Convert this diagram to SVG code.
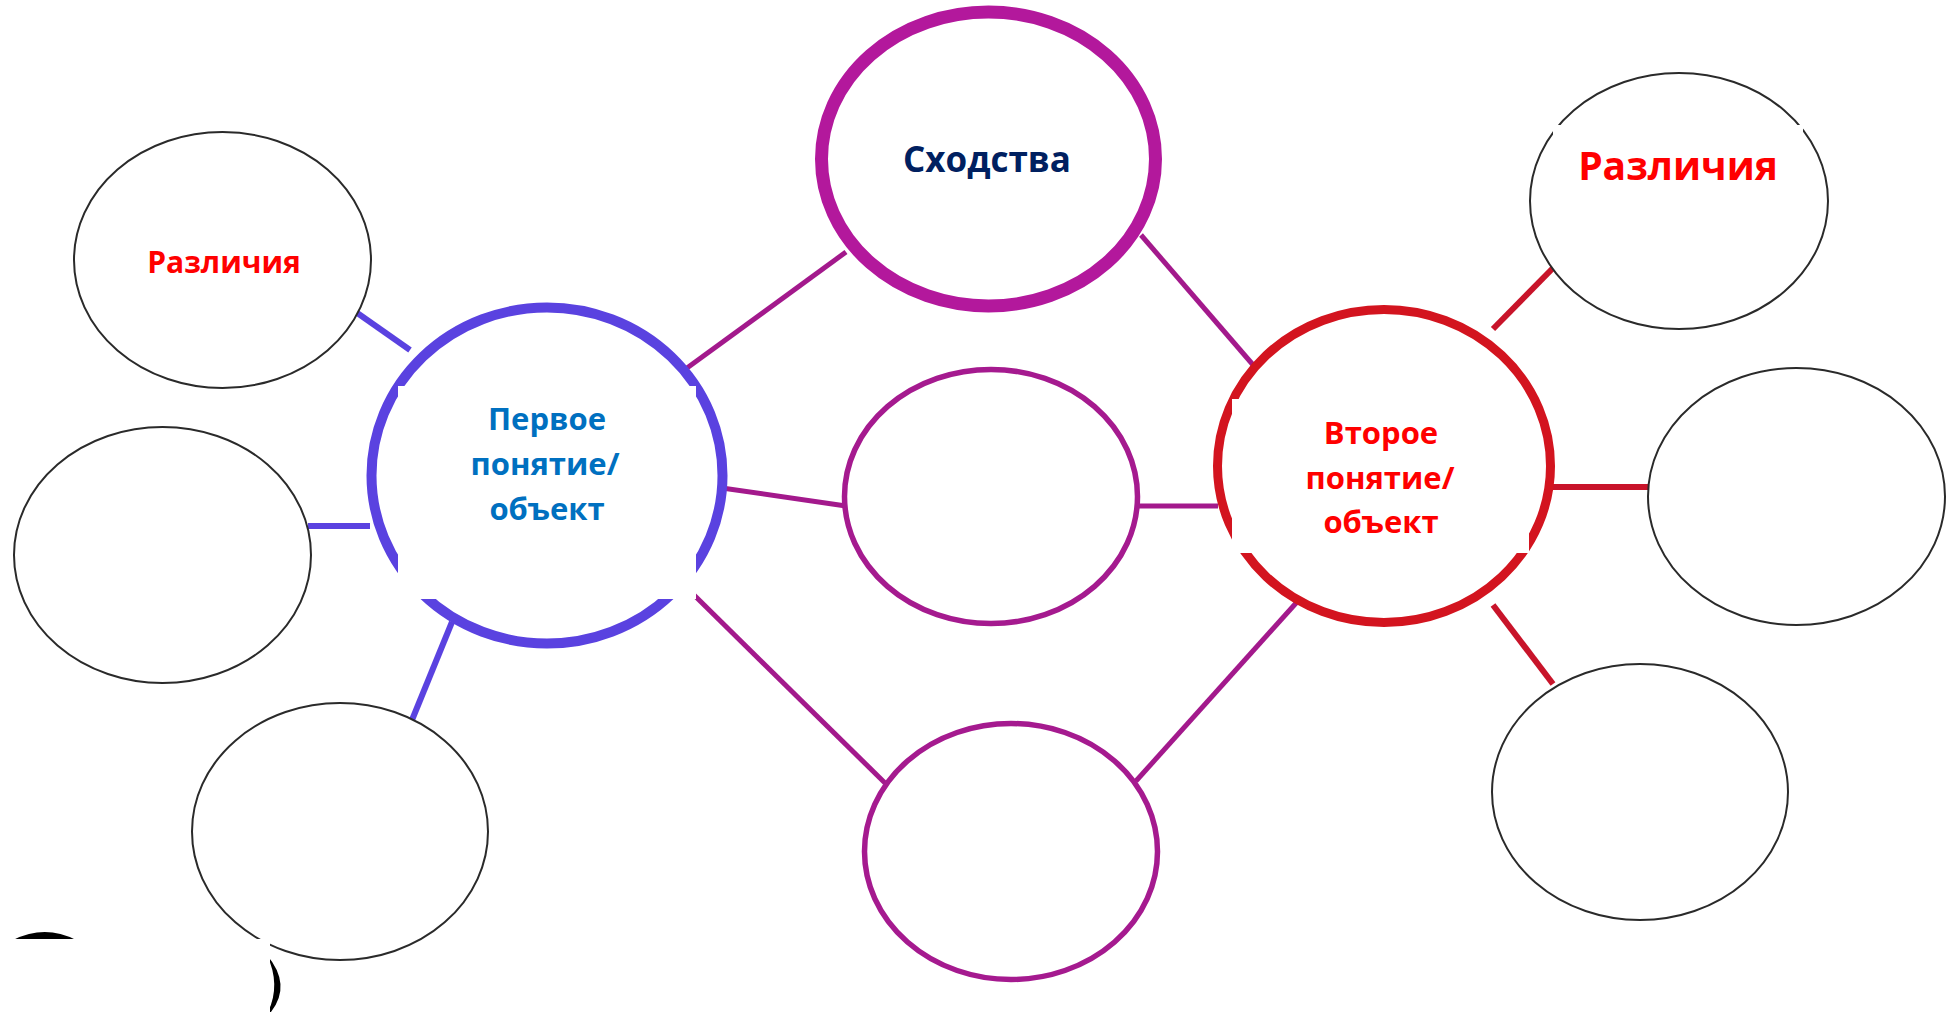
<svg xmlns="http://www.w3.org/2000/svg" width="1947" height="1012" viewBox="0 0 1947 1012">
<style>
.t{font-family:"Open Sans","Noto Sans","DejaVu Sans",sans-serif;font-weight:700;text-anchor:middle}
.thin{fill:#fff;stroke:#2a2a2a;stroke-width:2}
.blue{stroke:#5a42e0;stroke-width:6;fill:none}
.mag{stroke:#a3198c;stroke-width:5;fill:none}
.red{stroke:#c8142a;stroke-width:6;fill:none}
.mask{fill:#fff}
</style>
<rect width="1947" height="1012" fill="#fff"/>
<g id="connectors">
<line class="blue" x1="353" y1="310" x2="410" y2="350"/>
<line class="blue" x1="308" y1="526" x2="370" y2="526"/>
<line class="blue" x1="412" y1="720" x2="452" y2="622"/>
<line class="mag" x1="687" y1="368" x2="846" y2="252"/>
<line class="mag" x1="722" y1="488" x2="846" y2="506"/>
<line class="mag" x1="694" y1="595" x2="885" y2="783"/>
<line class="mag" x1="1141" y1="235" x2="1254" y2="366"/>
<line class="mag" x1="1136" y1="506" x2="1218" y2="506"/>
<line class="mag" x1="1136" y1="781" x2="1297" y2="602"/>
<line class="red" x1="1493" y1="329" x2="1554" y2="267"/>
<line class="red" x1="1550" y1="487" x2="1651" y2="487"/>
<line class="red" x1="1493" y1="605" x2="1553" y2="684"/>
</g>
<g id="diff-left-top">
<ellipse class="thin" cx="222.5" cy="260" rx="148.5" ry="128"/>
<text class="t" x="224" y="273" font-size="30" fill="#ff0000">Различия</text>
</g>
<g id="diff-left-mid">
<ellipse class="thin" cx="162.5" cy="555" rx="148.5" ry="128"/>
</g>
<g id="diff-left-bottom">
<ellipse class="thin" cx="340" cy="831.5" rx="148" ry="128.5"/>
</g>
<g id="first-concept">
<ellipse cx="547" cy="475.5" rx="175.5" ry="168" fill="#fff" stroke="#5a42e0" stroke-width="10"/>
<rect class="mask" x="398" y="386" width="298" height="213"/>
<text class="t" font-size="31" fill="#0070c0"><tspan x="547" y="430">Первое</tspan><tspan x="545" y="475">понятие/</tspan><tspan x="547" y="520">объект</tspan></text>
</g>
<g id="similarities">
<ellipse cx="988.5" cy="159" rx="167" ry="147" fill="#fff" stroke="#b3189c" stroke-width="13"/>
<text class="t" x="987" y="172" font-size="35" fill="#002060">Сходства</text>
</g>
<g id="sim-mid">
<ellipse cx="991" cy="496.5" rx="146.5" ry="127" fill="#fff" stroke="#a51a8f" stroke-width="5.5"/>
</g>
<g id="sim-bottom">
<ellipse cx="1011" cy="851.5" rx="146.5" ry="128" fill="#fff" stroke="#a51a8f" stroke-width="5.5"/>
</g>
<g id="second-concept">
<ellipse cx="1384" cy="466" rx="166.5" ry="156.5" fill="#fff" stroke="#d3141f" stroke-width="9"/>
<rect class="mask" x="1232" y="399" width="297" height="154"/>
<text class="t" font-size="31" fill="#ff0000"><tspan x="1381" y="444">Второе</tspan><tspan x="1380" y="489">понятие/</tspan><tspan x="1381" y="533">объект</tspan></text>
</g>
<g id="diff-right-top">
<ellipse class="thin" cx="1679" cy="201" rx="149" ry="128"/>
<rect class="mask" x="1553" y="125" width="250" height="136"/>
<text class="t" x="1678" y="180" font-size="39" fill="#ff0000">Различия</text>
</g>
<g id="diff-right-mid">
<ellipse class="thin" cx="1796.5" cy="496.5" rx="148.5" ry="128.5"/>
</g>
<g id="diff-right-bottom">
<ellipse class="thin" cx="1640" cy="792" rx="148" ry="128"/>
</g>
<g id="corner-fragment">
<path d="M13,940 Q45,924 76,940 Z" fill="#000"/>
<path d="M267,955 Q292,985 271,1012 L268,1012 Q281,985 267,955 Z" fill="#000"/>
<rect class="mask" x="10" y="939" width="260" height="73"/>
</g>
</svg>
